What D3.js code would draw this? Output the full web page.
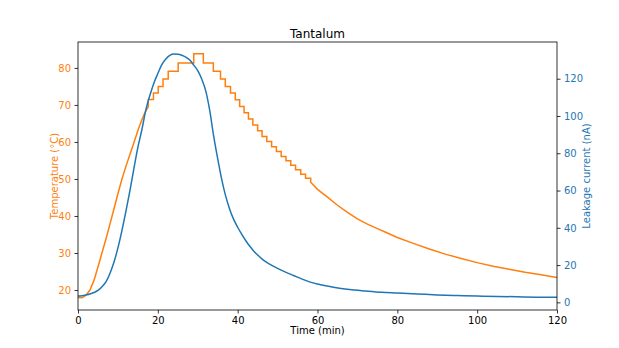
<!DOCTYPE html>
<html><head><meta charset="utf-8">
<script src="https://cdn.jsdelivr.net/npm/d3@7"></script>
<style>body{margin:0;background:#fff}svg{display:block}text{font-family:"DejaVu Sans",sans-serif}</style>
</head><body><svg id="c" width="619" height="348"></svg>
<script>
const title = "Tantalum";
const xTicks = [0, 20, 40, 60, 80, 100, 120];
const tempTicks = [20, 30, 40, 50, 60, 70, 80];
const currTicks = [0, 20, 40, 60, 80, 100, 120];

const tempTime = [0,1,2,3,4,5,6,7,8,9,10,11,12,13,14,15,16,16.8,17.6,17.6,18.9,18.9,20.1,20.1,21.3,21.3,22.6,22.6,25.1,25.1,29.0,29.0,31.4,31.4,33.9,33.9,35.7,35.7,36.9,36.9,38.2,38.2,39.4,39.4,40.5,40.5,41.6,41.6,42.7,42.7,43.8,43.8,45.0,45.0,46.1,46.1,47.3,47.3,48.5,48.5,49.7,49.7,50.9,50.9,52.1,52.1,53.3,53.3,54.5,54.5,55.8,55.8,57.0,57.0,58.3,58.3,60,62.5,65,67.5,70,72.5,75,77.5,80,84,88,92,96,100,104,108,112,116,120];
const tempValue = [18.0,17.9,18.6,20.0,22.6,26.2,30.0,33.8,37.8,41.9,46.0,49.9,53.4,56.6,59.8,63.1,66.0,68.0,69.5,71.5,71.5,73.2,73.2,75.0,75.0,77.0,77.0,79.1,79.1,81.3,81.3,83.8,83.8,81.3,81.3,79.1,79.1,77.0,77.0,75.0,75.0,73.2,73.2,71.4,71.4,69.6,69.6,67.9,67.9,66.2,66.2,64.6,64.6,63.0,63.0,61.5,61.5,60.1,60.1,58.7,58.7,57.4,57.4,56.1,56.1,54.9,54.9,53.7,53.7,52.5,52.5,51.3,51.3,50.2,50.2,49.1,47.2,45.1,42.9,41.0,39.2,37.8,36.6,35.4,34.2,32.6,31.1,29.7,28.5,27.4,26.4,25.6,24.8,24.1,23.4];

const currTime = [0,1,2,3,4,5,6,7,8,9,10,11,12,13,14,15,16,17,18,19,20,21,22,23,24,25,26,27,28,29,30,31,32,33,34,35,36,37,38,39,40,41,42,43,44,45,46,47,48,50,52,54,56,58,60,64,68,72,76,80,85,90,95,100,105,110,115,120];
const currValue = [3.4,3.6,4.0,4.5,5.3,6.4,8.4,11.0,15.5,21.5,29.2,38.5,48.8,59.8,71.8,83.2,92.6,103.3,111.0,117.6,122.8,127.6,130.6,132.5,133.2,133.1,132.6,131.6,130.0,127.3,124.3,119.8,113.5,103.0,89.0,77.0,66.0,57.0,50.0,44.5,40.3,36.6,33.2,30.2,27.6,25.4,23.5,21.9,20.5,18.2,16.2,14.4,12.6,11.0,9.8,8.1,6.9,6.1,5.4,5.0,4.5,4.0,3.7,3.4,3.2,3.0,2.8,2.7];

const orange = "#ff7f0e", blue = "#1f77b4";
const L = 78, R = 557, T = 42, B = 310;
const svg = d3.select("#c");
const x = d3.scaleLinear().domain([0, 120]).range([L, R]);
const yT = d3.scaleLinear().domain([14.6, 87.0]).range([B, T]);
const yC = d3.scaleLinear().domain([-4.1, 139.7]).range([B, T]);

const tempData = tempTime.map((t, i) => [t, tempValue[i]]);
const currData = currTime.map((t, i) => [t, currValue[i]]);

svg.append("path").datum(tempData)
  .attr("fill", "none").attr("stroke", orange).attr("stroke-width", 1.5)
  .attr("d", d3.line().x(d => x(d[0])).y(d => yT(d[1])));
svg.append("path").datum(currData)
  .attr("fill", "none").attr("stroke", blue).attr("stroke-width", 1.5)
  .attr("d", d3.line().curve(d3.curveMonotoneX).x(d => x(d[0])).y(d => yC(d[1])));

function styleAxis(g, col) {
  g.select(".domain").remove();
  g.selectAll(".tick line").attr("stroke", "#000").attr("stroke-width", 0.8);
  g.selectAll(".tick text").attr("fill", col).style("font-size", "10px").style("font-family", "DejaVu Sans");
}
const gx = svg.append("g").attr("transform", `translate(0,${B})`)
  .call(d3.axisBottom(x).tickValues(xTicks).tickSize(3.5).tickPadding(3.5));
styleAxis(gx, "#000");
const gl = svg.append("g").attr("transform", `translate(${L},0)`)
  .call(d3.axisLeft(yT).tickValues(tempTicks).tickSize(3.5).tickPadding(3.5));
styleAxis(gl, orange);
const gr = svg.append("g").attr("transform", `translate(${R},0)`)
  .call(d3.axisRight(yC).tickValues(currTicks).tickSize(3.5).tickPadding(3.5));
styleAxis(gr, blue);

svg.append("rect").attr("x", L).attr("y", T).attr("width", R - L).attr("height", B - T)
  .attr("fill", "none").attr("stroke", "#000").attr("stroke-width", 0.8);

svg.append("text").attr("x", (L + R) / 2).attr("y", 38).attr("text-anchor", "middle")
  .style("font-size", "12px").attr("fill", "#000").text(title);
svg.append("text").attr("x", (L + R) / 2).attr("y", 334).attr("text-anchor", "middle")
  .style("font-size", "10px").attr("fill", "#000").text("Time (min)");
svg.append("text").attr("transform", `translate(58,${(T + B) / 2}) rotate(-90)`).attr("text-anchor", "middle")
  .style("font-size", "10px").attr("fill", orange).text("Temperature (°C)");
svg.append("text").attr("transform", `translate(590,${(T + B) / 2}) rotate(-90)`).attr("text-anchor", "middle")
  .style("font-size", "10px").attr("fill", blue).text("Leakage current (nA)");
</script></body></html>
